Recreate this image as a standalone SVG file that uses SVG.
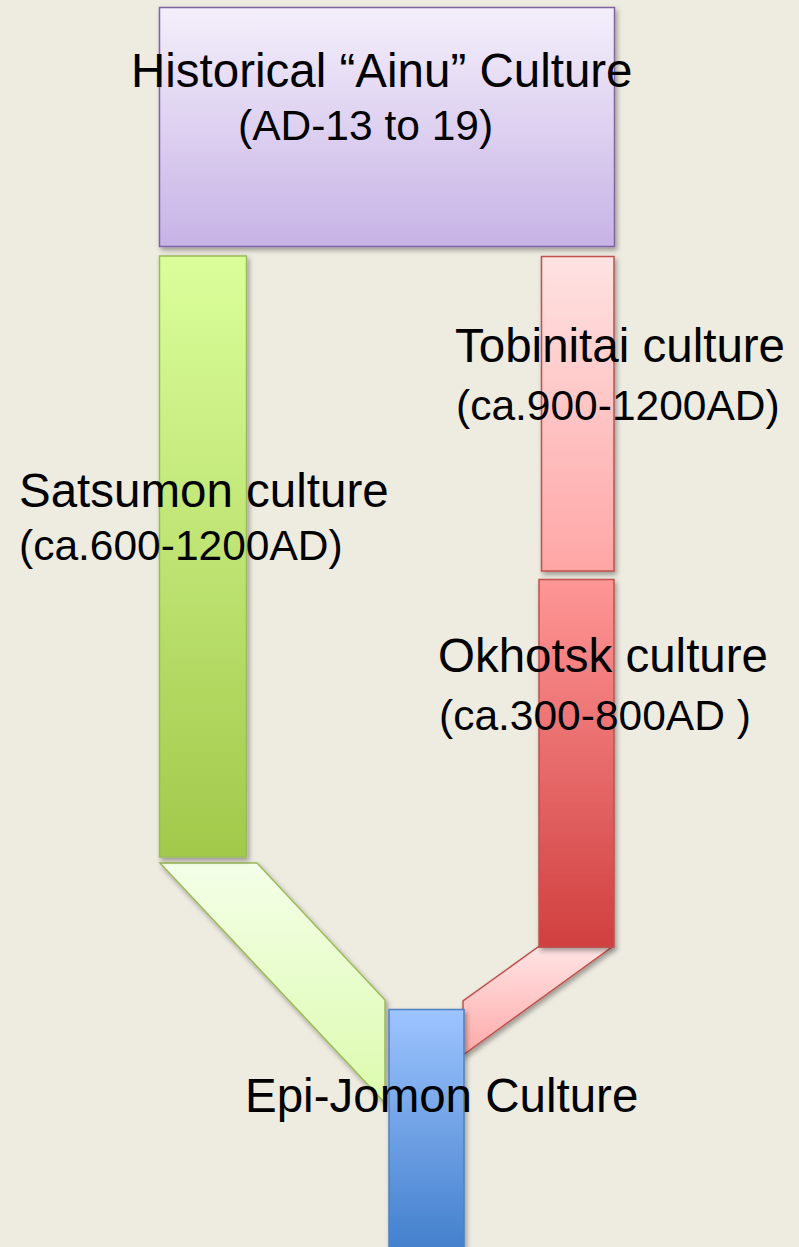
<svg xmlns="http://www.w3.org/2000/svg" width="799" height="1247" viewBox="0 0 799 1247">
  <defs>
    <linearGradient id="gPurple" x1="0" y1="0" x2="0" y2="1">
      <stop offset="0" stop-color="#f4effb"/>
      <stop offset="1" stop-color="#c7b3e6"/>
    </linearGradient>
    <linearGradient id="gGreen" x1="0" y1="0" x2="0" y2="1">
      <stop offset="0" stop-color="#dbfe9b"/>
      <stop offset="1" stop-color="#a2c94a"/>
    </linearGradient>
    <linearGradient id="gGreenLight" x1="0" y1="0" x2="0" y2="1">
      <stop offset="0" stop-color="#f4ffe8"/>
      <stop offset="1" stop-color="#dcfbae"/>
    </linearGradient>
    <linearGradient id="gPink" x1="0" y1="0" x2="0" y2="1">
      <stop offset="0" stop-color="#ffe2e2"/>
      <stop offset="1" stop-color="#ffa6a6"/>
    </linearGradient>
    <linearGradient id="gRed" x1="0" y1="0" x2="0" y2="1">
      <stop offset="0" stop-color="#ff9696"/>
      <stop offset="1" stop-color="#d03f3f"/>
    </linearGradient>
    <linearGradient id="gPinkLink" x1="0" y1="0" x2="0" y2="1">
      <stop offset="0" stop-color="#ffe4e4"/>
      <stop offset="1" stop-color="#ffa9a9"/>
    </linearGradient>
    <linearGradient id="gBlue" x1="0" y1="0" x2="0" y2="1">
      <stop offset="0" stop-color="#9dc4ff"/>
      <stop offset="1" stop-color="#3b7ac8"/>
    </linearGradient>
    <filter id="shadow" x="-20%" y="-20%" width="140%" height="140%">
      <feDropShadow dx="2" dy="3" stdDeviation="2.5" flood-color="#000" flood-opacity="0.35"/>
    </filter>
  </defs>
  <style>
    text { font-family: "Liberation Sans", Arial, sans-serif; fill: #000; }
    .big { font-size: 47.5px; }
    .small { font-size: 42.5px; }
    .shape { filter: url(#shadow); stroke-width: 1.5; }
  </style>

  <rect width="799" height="1247" fill="#eeebe1"/>

  <!-- links feeding into Epi-Jomon -->
  <g id="connectors">
    <polygon class="shape" points="160,863 257,863 385,1000 385,1103" fill="url(#gGreenLight)" stroke="#9bbb59"/>
    <polygon class="shape" points="538,947 612,947 463,1055 463,1001" fill="url(#gPinkLink)" stroke="#c0504d"/>
  </g>

  <g id="ainu">
    <rect class="shape" x="159.5" y="7.5" width="455" height="239" fill="url(#gPurple)" stroke="#8064a2"/>
  </g>

  <g id="satsumon">
    <rect class="shape" x="159.5" y="256" width="87" height="601" fill="url(#gGreen)" stroke="#9bbb59"/>
  </g>

  <g id="tobinitai">
    <rect class="shape" x="541.5" y="256.5" width="72.5" height="314.5" fill="url(#gPink)" stroke="#c0504d"/>
  </g>

  <g id="okhotsk">
    <rect class="shape" x="539" y="579.5" width="75" height="367.5" fill="url(#gRed)" stroke="#c0504d"/>
  </g>

  <g id="epijomon">
    <rect class="shape" x="389" y="1009.5" width="75" height="260" fill="url(#gBlue)" stroke="#4f81bd"/>
  </g>

  <!-- labels -->
  <g id="labels">
    <text class="big" x="131" y="87">Historical “Ainu” Culture</text>
    <text class="small" x="238" y="140">(AD-13 to 19)</text>
    <text class="big" x="19" y="507">Satsumon culture</text>
    <text class="small" x="19" y="560">(ca.600-1200AD)</text>
    <text class="big" x="455" y="362">Tobinitai culture</text>
    <text class="small" x="456" y="420">(ca.900-1200AD)</text>
    <text class="big" x="438" y="672">Okhotsk culture</text>
    <text class="small" x="439" y="730">(ca.300-800AD )</text>
    <text class="big" x="245" y="1112">Epi-Jomon Culture</text>
  </g>
</svg>
